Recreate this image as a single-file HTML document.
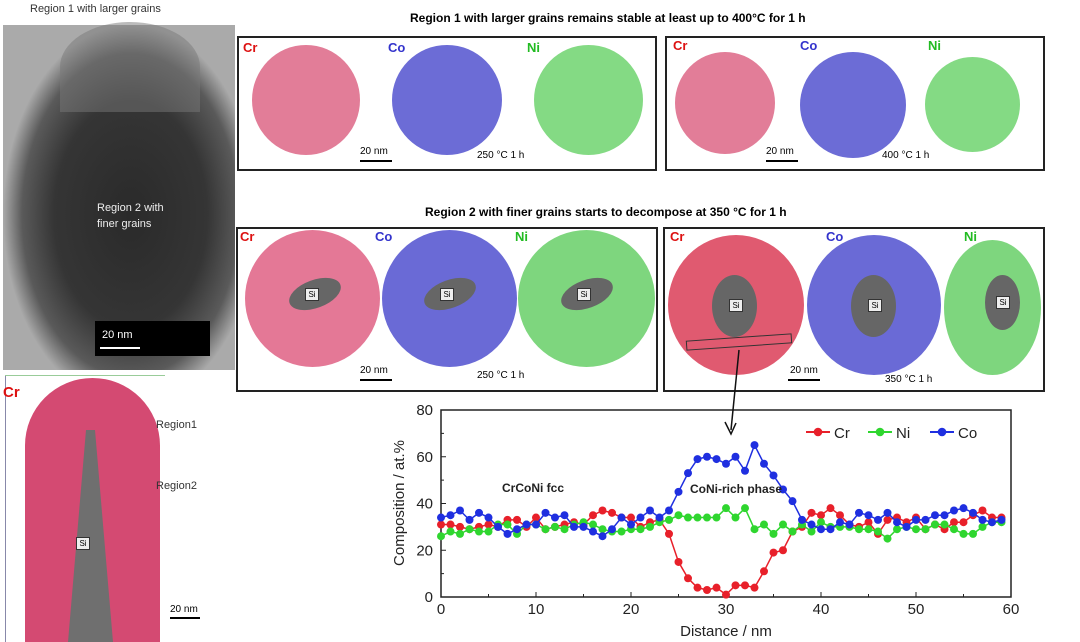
<!DOCTYPE html>
<html><head><meta charset="utf-8">
<style>
body{margin:0;width:1080px;height:642px;overflow:hidden;background:#fff;font-family:"Liberation Sans",sans-serif;position:relative}
.a{position:absolute}
.box{position:absolute;border:2px solid #222;box-sizing:border-box}
.t{position:absolute;font-size:12px;white-space:nowrap}
.c{position:absolute;border-radius:50%}
.si{position:absolute;background:#666;border-radius:50%}
.sil{position:absolute;background:#eee;border:1px solid #333;font-size:8px;width:12px;height:11px;text-align:center;line-height:11px}
.lab{position:absolute;font-weight:bold;font-size:13px}
</style></head><body>
<div class="t" style="left:30px;top:3px;font-size:11px;color:#333">Region 1 with  larger grains</div>
<div class="a" style="left:3px;top:25px;width:232px;height:345px;background:radial-gradient(ellipse 55% 55% at 55% 55%,#2a2a2a,#353535 60%,#5a5a5a 85%,#aaa 100%)"></div>
<div class="a" style="left:60px;top:22px;width:140px;height:90px;border-radius:50% 50% 0 0;background:#777;opacity:.5"></div>
<div class="t" style="left:97px;top:200px;color:#eee;font-size:11px;line-height:16px">Region 2 with<br>finer grains</div>
<div class="a" style="left:95px;top:321px;width:115px;height:35px;background:#000"></div>
<div class="t" style="left:102px;top:329px;color:#fff;font-size:11px">20 nm</div>
<div class="a" style="left:100px;top:347px;width:40px;height:2px;background:#fff"></div>
<div class="a" style="left:25px;top:378px;width:135px;height:264px;border-radius:70px 70px 0 0;background:#d44a72"></div>
<div class="a" style="left:68px;top:430px;width:45px;height:212px;background:#6f6f6f;clip-path:polygon(40% 0,60% 0,100% 100%,0 100%)"></div>
<div class="a" style="left:5px;top:375px;width:1px;height:267px;background:#88a"></div>
<div class="a" style="left:5px;top:375px;width:160px;height:1px;background:#9c9"></div>
<div class="lab" style="left:3px;top:384px;color:#d11;font-size:15px">Cr</div>
<div class="sil" style="left:76px;top:537px">Si</div>
<div class="t" style="left:156px;top:419px;font-size:11px;color:#333">Region1</div>
<div class="t" style="left:156px;top:480px;font-size:11px;color:#333">Region2</div>
<div class="t" style="left:170px;top:604px;font-size:10px">20 nm</div>
<div class="a" style="left:170px;top:617px;width:30px;height:2px;background:#000"></div>

<div class="t" style="left:410px;top:11px;font-weight:bold;font-size:12px">Region 1 with larger grains remains stable at least up to 400°C for 1 h</div>
<div class="box" style="left:237px;top:36px;width:420px;height:135px"></div>
<div class="box" style="left:665px;top:36px;width:380px;height:135px"></div>
<div class="lab" style="left:243px;top:40px;color:#d11">Cr</div><div class="lab" style="left:388px;top:40px;color:#33c">Co</div><div class="lab" style="left:527px;top:40px;color:#2b2">Ni</div>
<div class="c" style="left:252px;top:45px;width:108px;height:110px;background:#e27d98"></div>
<div class="c" style="left:392px;top:45px;width:110px;height:110px;background:#6c6cd6"></div>
<div class="c" style="left:534px;top:45px;width:109px;height:110px;background:#84da84"></div>
<div class="t" style="left:360px;top:146px;font-size:10px">20 nm</div><div class="a" style="left:360px;top:160px;width:32px;height:2px;background:#000"></div>
<div class="t" style="left:477px;top:150px;font-size:10px">250 °C  1 h</div>
<div class="lab" style="left:673px;top:38px;color:#d11">Cr</div><div class="lab" style="left:800px;top:38px;color:#33c">Co</div><div class="lab" style="left:928px;top:38px;color:#2b2">Ni</div>
<div class="c" style="left:675px;top:52px;width:100px;height:102px;background:#e27d98"></div>
<div class="c" style="left:800px;top:52px;width:106px;height:106px;background:#6c6cd6"></div>
<div class="c" style="left:925px;top:57px;width:95px;height:95px;background:#84da84"></div>
<div class="t" style="left:766px;top:146px;font-size:10px">20 nm</div><div class="a" style="left:766px;top:160px;width:32px;height:2px;background:#000"></div>
<div class="t" style="left:882px;top:150px;font-size:10px">400 °C  1 h</div>

<div class="t" style="left:425px;top:205px;font-weight:bold;font-size:12px">Region 2 with finer grains starts to decompose at 350 °C for 1 h</div>
<div class="box" style="left:236px;top:227px;width:422px;height:165px"></div>
<div class="box" style="left:663px;top:227px;width:382px;height:165px"></div>
<div class="c" style="left:245px;top:230px;width:135px;height:137px;background:#e47896"></div>
<div class="c" style="left:382px;top:230px;width:135px;height:137px;background:#6a6ad6"></div>
<div class="c" style="left:518px;top:230px;width:137px;height:137px;background:#7ed67e"></div>
<div class="si" style="left:288px;top:280px;width:54px;height:28px;transform:rotate(-20deg)"></div><div class="sil" style="left:305px;top:288px">Si</div>
<div class="si" style="left:423px;top:280px;width:54px;height:28px;transform:rotate(-20deg)"></div><div class="sil" style="left:440px;top:288px">Si</div>
<div class="si" style="left:560px;top:280px;width:54px;height:28px;transform:rotate(-20deg)"></div><div class="sil" style="left:577px;top:288px">Si</div>
<div class="lab" style="left:240px;top:229px;color:#d11">Cr</div><div class="lab" style="left:375px;top:229px;color:#33c">Co</div><div class="lab" style="left:515px;top:229px;color:#2b2">Ni</div>
<div class="t" style="left:360px;top:365px;font-size:10px">20 nm</div><div class="a" style="left:360px;top:379px;width:32px;height:2px;background:#000"></div>
<div class="t" style="left:477px;top:370px;font-size:10px">250 °C  1 h</div>
<div class="c" style="left:668px;top:235px;width:136px;height:140px;background:#e05a70"></div>
<div class="c" style="left:807px;top:235px;width:134px;height:140px;background:#6a6ad6"></div>
<div class="c" style="left:944px;top:240px;width:97px;height:135px;background:#7ed67e"></div>
<div class="si" style="left:712px;top:275px;width:45px;height:62px"></div><div class="sil" style="left:729px;top:299px">Si</div>
<div class="si" style="left:851px;top:275px;width:45px;height:62px"></div><div class="sil" style="left:868px;top:299px">Si</div>
<div class="si" style="left:985px;top:275px;width:35px;height:55px"></div><div class="sil" style="left:996px;top:296px">Si</div>
<div class="a" style="left:686px;top:337px;width:104px;height:8px;border:1px solid #333;transform:rotate(-4deg)"></div>
<div class="lab" style="left:670px;top:229px;color:#d11">Cr</div><div class="lab" style="left:826px;top:229px;color:#33c">Co</div><div class="lab" style="left:964px;top:229px;color:#2b2">Ni</div>
<div class="t" style="left:790px;top:365px;font-size:10px">20 nm</div><div class="a" style="left:788px;top:379px;width:32px;height:2px;background:#000"></div>
<div class="t" style="left:885px;top:374px;font-size:10px">350 °C  1 h</div>

<svg id="chart" class="a" style="left:0;top:0" width="1080" height="642"></svg>
<script>
const distance=[];for(let i=0;i<60;i++)distance.push(i);
const cr=[31,31,30,29,30,31,30,33,33,30,34,29,30,31,32,31,35,37,36,34,34,30,32,33,27,15,8,4,3,4,1,5,5,4,11,19,20,28,30,36,35,38,35,31,30,32,27,33,34,32,34,29,31,29,32,32,35,37,34,34];
const ni=[26,28,27,29,28,28,31,31,27,31,31,29,30,29,31,32,31,29,28,28,29,29,30,32,33,35,34,34,34,34,38,34,38,29,31,27,31,28,31,28,32,30,30,30,29,29,28,25,29,30,29,29,31,31,29,27,27,30,32,32];
const co=[34,35,37,33,36,34,30,27,29,31,31,36,34,35,30,30,28,26,29,34,31,34,37,34,37,45,53,59,60,59,57,60,54,65,57,52,46,41,33,31,29,29,32,31,36,35,33,36,32,30,33,33,35,35,37,38,36,33,32,33];
const xTicks=[0,10,20,30,40,50,60];
const yTicks=[0,20,40,60,80];
const NS='http://www.w3.org/2000/svg';
const svg=document.getElementById('chart');
const X=v=>441+v*(1011-441)/60, Y=v=>597-v*(597-410)/80;
function mk(t,a,p){const e=document.createElementNS(NS,t);for(const k in a)e.setAttribute(k,a[k]);(p||svg).appendChild(e);return e;}
const frame=mk('rect',{x:X(0),y:Y(80),width:X(60)-X(0),height:Y(0)-Y(80),fill:'none',stroke:'#222','stroke-width':1.5});


xTicks.forEach(v=>{mk('line',{x1:X(v),x2:X(v),y1:Y(0),y2:Y(0)-5,stroke:'#222'});
const t=mk('text',{x:X(v),y:Y(0)+17,'text-anchor':'middle','font-size':15,fill:'#222'});t.textContent=v;

});
for(let v=5;v<60;v+=10)mk('line',{x1:X(v),x2:X(v),y1:Y(0),y2:Y(0)-3,stroke:'#222'});
yTicks.forEach(v=>{mk('line',{x1:X(0),x2:X(0)+5,y1:Y(v),y2:Y(v),stroke:'#222'});
const t=mk('text',{x:X(0)-8,y:Y(v)+5,'text-anchor':'end','font-size':15,fill:'#222'});t.textContent=v;

});
for(let v=10;v<80;v+=20)mk('line',{x1:X(0),x2:X(0)+3,y1:Y(v),y2:Y(v),stroke:'#222'});
const xt=mk('text',{x:726,y:636,'text-anchor':'middle','font-size':15,fill:'#222'});xt.textContent='Distance / nm';


const yt=mk('text',{x:0,y:0,'text-anchor':'middle','font-size':15,fill:'#222',transform:'translate(404,503) rotate(-90)'});yt.textContent='Composition / at.%';


const series=[[cr,'#e8202a','Cr'],[ni,'#2fd62f','Ni'],[co,'#1f2fe0','Co']];
series.forEach(([d,c,n])=>{
const pl=mk('polyline',{points:d.map((v,i)=>X(distance[i])+','+Y(v)).join(' '),fill:'none',stroke:c,'stroke-width':1.5});


d.forEach((v,i)=>{const p=mk('circle',{cx:X(distance[i]),cy:Y(v),r:4,fill:c});

});});
const lx=[806,868,930];
series.forEach(([d,c,n],k)=>{const g=mk('g',{});


mk('line',{x1:lx[k],x2:lx[k]+24,y1:432,y2:432,stroke:c,'stroke-width':2},g);
mk('circle',{cx:lx[k]+12,cy:432,r:4.3,fill:c},g);
const t=mk('text',{x:lx[k]+28,y:438,'font-size':15,fill:'#222'},g);t.textContent=n;});
const a1=mk('text',{x:502,y:492,'font-size':12,'font-weight':'bold',fill:'#222'});a1.textContent='CrCoNi fcc';


const a2=mk('text',{x:690,y:493,'font-size':12,'font-weight':'bold',fill:'#222'});a2.textContent='CoNi-rich phase';


mk('line',{x1:739,y1:350,x2:731,y2:430,stroke:'#111','stroke-width':1.5});
mk('path',{d:'M725,422 L731,434 L736,423',fill:'none',stroke:'#111','stroke-width':1.5});
</script>
</body></html>
